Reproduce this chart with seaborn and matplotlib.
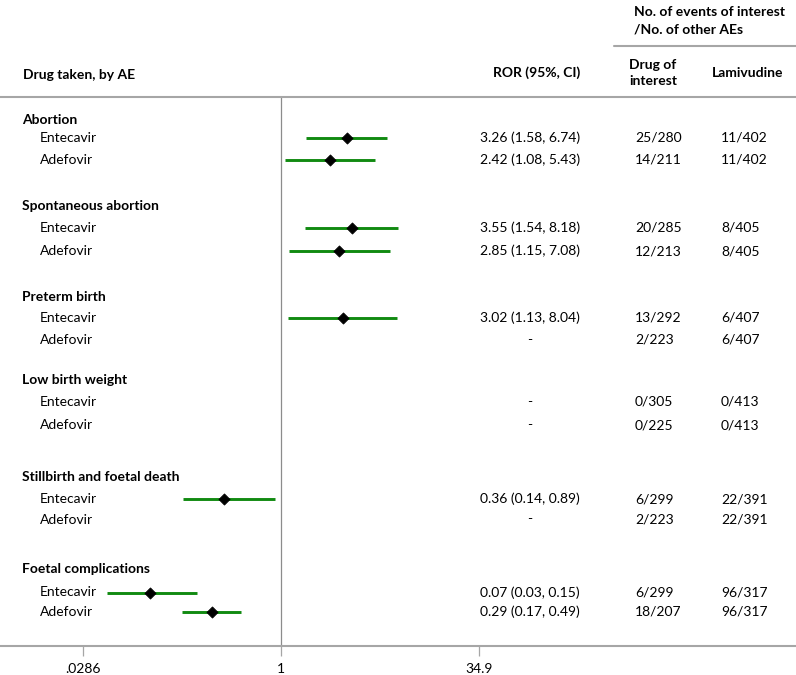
import numpy as np
import pandas as pd
import matplotlib
matplotlib.use("Agg")
import matplotlib.pyplot as plt
from matplotlib.lines import Line2D
from matplotlib.ticker import FixedLocator, FixedFormatter, NullLocator
import seaborn as sns

# ---------------- data ----------------
groups = ["Abortion", "Spontaneous abortion", "Preterm birth", "Low birth weight",
          "Stillbirth and foetal death", "Foetal complications"]
drugs = ["Entecavir", "Adefovir"]

# ROR point estimate and 95% CI as drawn (read from the marks)
ror = [3.26, 2.42, 3.55, 2.85, 3.02, np.nan, np.nan, np.nan, 0.36, np.nan, 0.096, 0.29]
ci_low = [1.58, 1.08, 1.54, 1.15, 1.13, np.nan, np.nan, np.nan, 0.173, np.nan, 0.044, 0.17]
ci_high = [6.74, 5.43, 8.18, 7.08, 8.04, np.nan, np.nan, np.nan, 0.89, np.nan, 0.22, 0.49]

ror_text = ["3.26 (1.58, 6.74)", "2.42 (1.08, 5.43)",
            "3.55 (1.54, 8.18)", "2.85 (1.15, 7.08)",
            "3.02 (1.13, 8.04)", "-",
            "-", "-",
            "0.36 (0.14, 0.89)", "-",
            "0.07 (0.03, 0.15)", "0.29 (0.17, 0.49)"]
drug_counts = ["25/280", "14/211", "20/285", "12/213", "13/292", "2/223",
               "0/305", "0/225", "6/299", "2/223", "6/299", "18/207"]
lami_counts = ["11/402", "11/402", "8/405", "8/405", "6/407", "6/407",
               "0/413", "0/413", "22/391", "22/391", "96/317", "96/317"]

tick_values = [0.0286, 1, 34.9]
tick_labels = [".0286", "1", "34.9"]

# ---------------- layout (pixel rows of a 796x675 canvas) ----------------
W, H = 796, 675
heading_y = [120, 206.5, 297, 380, 477, 569]
row_y = [138, 160, 228, 251, 318, 340, 402, 425, 499, 519.5, 592.5, 612]
axis_bottom_px = 645.7
header_line_px = 97
px_per_ln = 198 / np.log(34.9)
x_one_px = 281

sns.set_theme(style="white")
plt.rcParams["font.family"] = ["Lato", "DejaVu Sans"]
FS = 10

fig = plt.figure(figsize=(W / 100, H / 100), dpi=100)
fig.patch.set_facecolor("white")
ax = fig.add_axes([0, (H - axis_bottom_px) / H, 1, (axis_bottom_px - header_line_px) / H])
ax.set_facecolor("white")
ax.set_xscale("log")
ax.set_xlim(np.exp(-x_one_px / px_per_ln), np.exp((W - x_one_px) / px_per_ln))
ax.set_ylim(axis_bottom_px, header_line_px)

df = pd.DataFrame({"ror": ror, "lo": ci_low, "hi": ci_high, "y": row_y})
dd = df.dropna()

ax.hlines(dd["y"], dd["lo"], dd["hi"], color="#118a11", lw=2.1, zorder=2)
sns.scatterplot(data=dd, x="ror", y="y", marker="D", s=32, color="black",
                edgecolor="black", linewidth=0.6, ax=ax, legend=False, zorder=3)
ax.axvline(1, color="#8c8c8c", lw=0.9, zorder=1)

for side in ["left", "right"]:
    ax.spines[side].set_visible(False)
for side in ["top", "bottom"]:
    ax.spines[side].set_color("#a6a6a6")
    ax.spines[side].set_linewidth(1.5)

ax.xaxis.set_major_locator(FixedLocator(tick_values))
ax.xaxis.set_major_formatter(FixedFormatter(tick_labels))
ax.xaxis.set_minor_locator(NullLocator())
ax.tick_params(axis="x", which="major", direction="out", length=7.5, width=0.9,
               color="#a6a6a6", pad=5, labelsize=FS, labelcolor="black", bottom=True)
ax.yaxis.set_major_locator(NullLocator())
ax.set_xlabel("")
ax.set_ylabel("")


def ftext(xpx, ypx, s, **kw):
    fig.text(xpx / W, 1 - ypx / H, s, fontsize=FS, color="black", va="center", **kw)


# headers
ftext(23, 75, "Drug taken, by AE", fontweight="bold", ha="left")
ftext(537, 73, "ROR (95%, CI)", fontweight="bold", ha="center")
ftext(653, 73, "Drug of\ninterest", fontweight="bold", ha="center", linespacing=1.4)
ftext(748, 73, "Lamivudine", fontweight="bold", ha="center")
ftext(634, 12, "No. of events of interest", fontweight="bold", ha="left")
ftext(634, 30, "/No. of other AEs", fontweight="bold", ha="left")
fig.add_artist(Line2D([614 / W, 1], [1 - 45.7 / H, 1 - 45.7 / H],
                      transform=fig.transFigure, color="#a6a6a6", lw=1.5))

# rows
for g, gy in zip(groups, heading_y):
    ftext(22, gy, g, fontweight="bold", ha="left")
for i, y in enumerate(row_y):
    ftext(40, y, drugs[i % 2], ha="left")
    ftext(530, y, ror_text[i], ha="center")
    ftext(635, y, drug_counts[i], ha="left")
    ftext(721, y, lami_counts[i], ha="left")

fig.savefig("out.png", dpi=100, facecolor="white")
